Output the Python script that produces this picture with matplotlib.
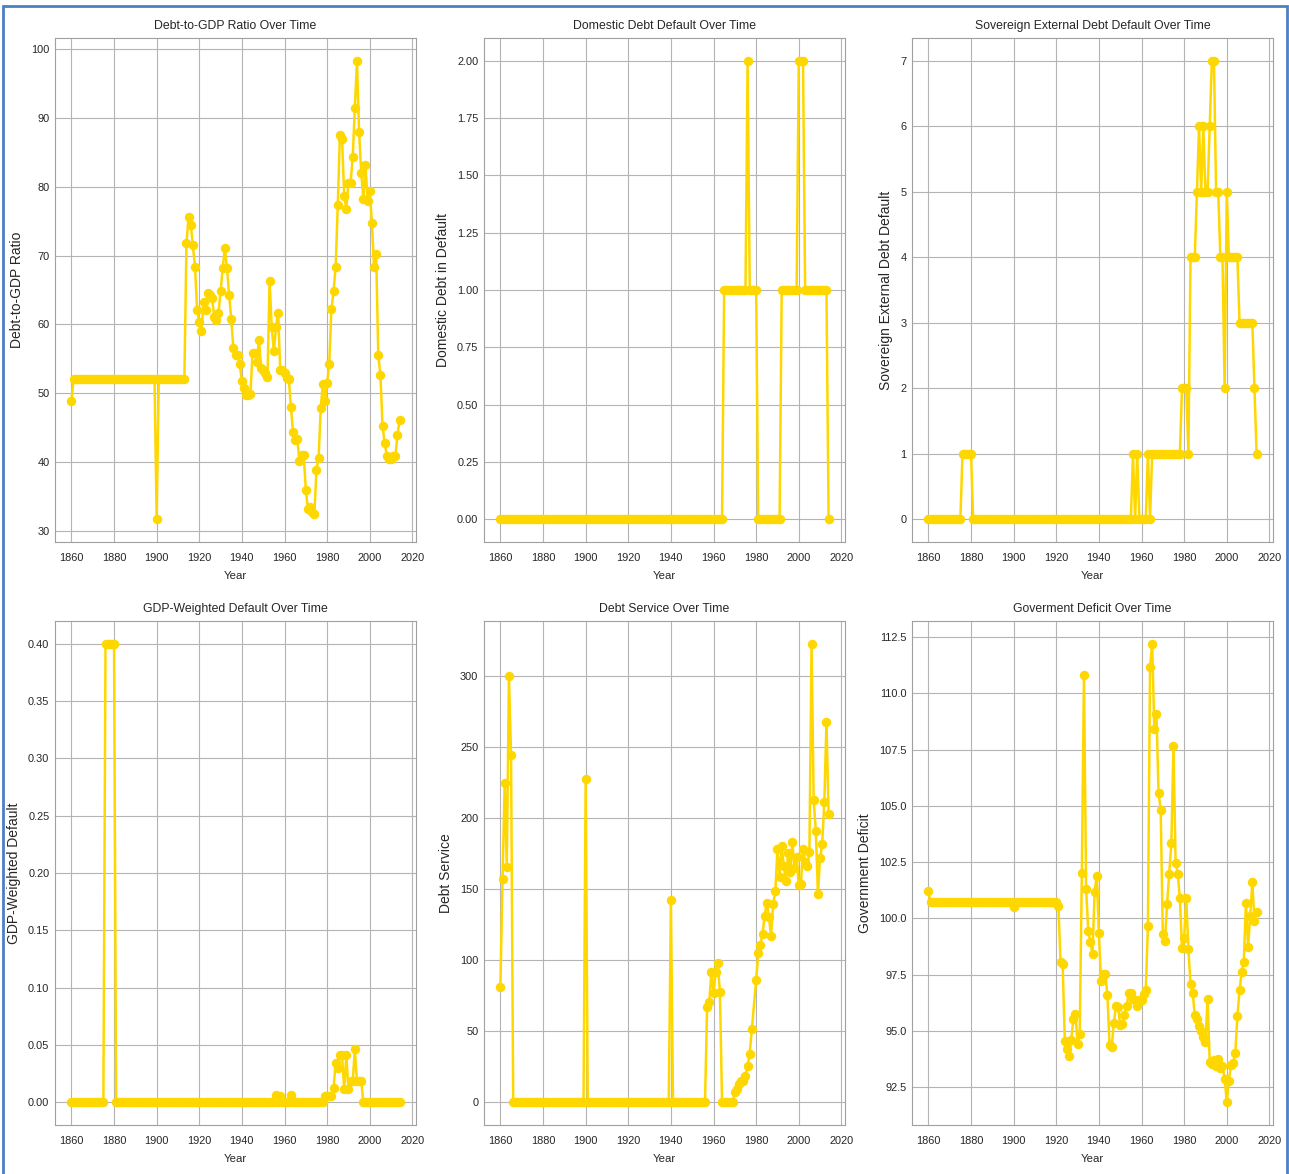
import matplotlib
matplotlib.use('Agg')
from matplotlib import pyplot as plt
from matplotlib.patches import Rectangle

#######################################################################
# data (one value per year, 1860-2014)
#######################################################################
years = list(range(1860, 2015))

debt_gdp = ([48.9] + [52.0] * 39 + [31.7] + [52.0] * 13 +
            [71.9, 75.6, 74.5, 71.5, 68.4, 62.1, 60.3, 59.1, 63.2, 62.1,
             64.5, 64.3, 63.9, 61.1, 60.6, 61.6, 64.8, 68.2, 71.1, 68.2,
             64.3, 60.8, 56.5, 55.5, 55.6, 54.2, 51.7, 50.7, 49.7, 49.8,
             49.9, 55.9, 55.9, 54.6, 57.8, 53.6, 53.3, 52.9, 52.3, 66.3,
             59.6, 56.1, 59.6, 61.7, 53.3, 53.3, 52.9, 52.2, 52.1, 48.0,
             44.3, 43.2, 43.4, 40.2, 41.0, 41.0, 36.0, 33.1, 33.4, 32.8,
             32.4, 38.9, 40.6, 47.9, 51.4, 48.8, 51.5, 54.3, 62.2, 64.8,
             68.4, 77.4, 87.6, 87.0, 78.7, 76.8, 80.6, 80.6, 84.3, 91.5,
             98.3, 88.0, 82.0, 78.3, 83.1, 77.9, 79.4, 74.8, 68.4, 70.3,
             55.5, 52.7, 45.2, 42.8, 40.9, 40.4, 40.4, 40.8, 40.8, 43.9, 46.1])

domestic = ([0] * 105 + [1] * 11 + [2] + [1] * 4 + [0] * 11 +
            [1] * 8 + [2] * 3 + [1] * 11 + [0])

sovereign = ([0] * 16 + [1] * 5 + [0] * 75 + [1, 0, 1] + [0] * 4 + [1, 0] +
             [1] * 14 + [2] * 3 + [1] + [4] * 3 +
             [5, 6, 5, 6, 5, 5, 6, 7, 7, 5, 5, 4, 4, 2, 5] +
             [4] * 5 + [3] * 7 + [2, 1])

gdp_weighted = ([0.0] * 16 + [0.40] * 5 + [0.0] * 75 + [0.0065, 0.0, 0.0055] +
                [0.0] * 4 + [0.0065, 0.0] + [0.0] * 14 +
                [0.0055, 0.0055, 0.0055, 0.005, 0.012, 0.034, 0.030] +
                [0.041, 0.041, 0.011, 0.041, 0.011, 0.018, 0.018, 0.046,
                 0.018, 0.018, 0.018] + [0.0] * 18)

# debt service has no 1979 entry (line goes straight from 1978 to 1980)
service_years = [y for y in years if y != 1979]
debt_service = ([81.4, 156.9, 224.9, 165.5, 300.0, 244.3] + [0] * 34 + [227.6] +
                [0] * 39 + [142.1] + [0] * 16 +
                [66.9, 70.5, 91.5, 76.8, 91.5, 97.9, 77.5] + [0] * 6 +
                [6.8, 9.2, 13.0, 14.6, 14.6, 18.5, 25.6, 34.1, 51.4,
                 86.2, 104.9, 110.8, 118.5, 131.2, 140.6, 130.7, 117.1, 139.7, 148.4,
                 178.2, 158.5, 180.5, 166.0, 155.9, 175.4, 162.4, 182.9, 164.8, 173.0,
                 153.0, 153.5, 178.2, 169.5, 166.0, 176.0, 322.8, 212.9, 191.3, 146.7,
                 171.8, 181.7, 211.7, 267.8, 202.8])

gov_deficit = ([101.2] + [100.73] * 39 + [100.5] + [100.73] * 20 + [100.56] +
               [98.08, 97.96, 94.57, 94.2, 93.87, 94.6, 95.53, 95.76, 94.44, 94.85,
                102.02, 110.83, 101.32, 99.45, 98.96, 98.41, 101.19, 101.89, 99.34, 97.22,
                97.55, 97.55, 96.59, 94.37, 94.27, 95.35, 96.09, 96.06, 95.27, 95.31,
                95.73, 96.11, 96.67, 96.67, 96.44, 96.36, 96.11, 96.39, 96.36, 96.64,
                96.8, 99.67, 111.18, 112.2, 108.44, 109.09, 105.58, 104.83, 99.29, 99.01,
                100.66, 101.99, 103.34, 107.68, 102.48, 101.99, 100.89, 98.68, 99.12, 100.89,
                98.63, 97.09, 96.69, 95.73, 95.53, 95.23, 94.98, 94.73, 94.49, 96.42,
                93.61, 93.54, 93.71, 93.44, 93.77, 93.36, 93.44, 92.88, 91.84, 92.78,
                93.49, 93.58, 94.04, 95.65, 96.8, 97.63, 98.08, 100.7, 98.74, 100.12,
                101.61, 99.9, 100.28])

titles = ['Debt-to-GDP Ratio Over Time', 'Domestic Debt Default Over Time',
          'Sovereign External Debt Default Over Time', 'GDP-Weighted Default Over Time',
          'Debt Service Over Time', 'Goverment Deficit Over Time']
ylabels = ['Debt-to-GDP Ratio', 'Domestic Debt in Default', 'Sovereign External Debt Default',
           'GDP-Weighted Default', 'Debt Service', 'Government Deficit']
xs = [years, years, years, years, service_years, years]
series = [debt_gdp, domestic, sovereign, gdp_weighted, debt_service, gov_deficit]

#######################################################################
# style
#######################################################################
plt.style.use('seaborn-v0_8-whitegrid')
plt.rcParams['font.family'] = ['Liberation Sans', 'DejaVu Sans']
plt.rcParams['grid.color'] = '#b4b4b4'
plt.rcParams['grid.linewidth'] = 0.8
plt.rcParams['axes.edgecolor'] = '#a0a0a0'
plt.rcParams['axes.linewidth'] = 0.8

W, H = 1289, 1174
fig = plt.figure(figsize=(W / 100, H / 100), dpi=100)

lefts = [55, 484, 912]
tops = [38, 621]
aw, ah = 361, 504

for i, (x, vals, ttl, ylab) in enumerate(zip(xs, series, titles, ylabels)):
    row, col = divmod(i, 3)
    ax = fig.add_axes([lefts[col] / W, 1 - (tops[row] + ah) / H, aw / W, ah / H])
    ax.plot(x, vals, color='#FFD700', marker='o', markersize=5.8, linewidth=1.8)
    ax.set_title(ttl, fontsize=8.8, pad=6.5)
    ax.set_xlabel('Year', fontsize=8.2, labelpad=6)
    ax.set_ylabel(ylab, fontsize=10, labelpad=5)
    ax.tick_params(labelsize=7.9, pad=4)
    ax.tick_params(axis='x', pad=8)
    ax.set_xticks(range(1860, 2021, 20))
    ax.grid(True)

# blue frame of the screenshot
fig.add_artist(Rectangle((3 / W, -0.01), 1284 / W, 1.01 - 6 / H, transform=fig.transFigure,
                         fill=False, edgecolor='#4a80c4', linewidth=2))

fig.savefig('out.png', dpi=100)
